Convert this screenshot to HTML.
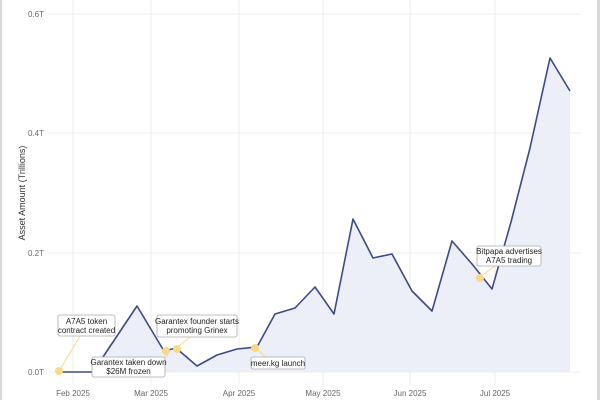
<!DOCTYPE html>
<html><head><style>
html,body{margin:0;padding:0;background:#fff;}
svg{display:block;font-family:"Liberation Sans",sans-serif;}
</style></head><body>
<svg width="600" height="400" viewBox="0 0 600 400">
<rect x="0" y="0" width="2" height="400" fill="#d8d8d8"/>
<rect x="597" y="0" width="3" height="400" fill="#d8d8d8"/>
<g stroke="#ececec" stroke-width="1">
<line x1="73" y1="0" x2="73" y2="385"/>
<line x1="151" y1="0" x2="151" y2="385"/>
<line x1="239" y1="0" x2="239" y2="385"/>
<line x1="323" y1="0" x2="323" y2="385"/>
<line x1="410" y1="0" x2="410" y2="385"/>
<line x1="495" y1="0" x2="495" y2="385"/>
<line x1="48" y1="14" x2="581" y2="14"/>
<line x1="48" y1="133" x2="581" y2="133"/>
<line x1="48" y1="253" x2="581" y2="253"/>
<line x1="48" y1="372" x2="581" y2="372"/>
</g>
<g font-size="8" fill="#666" text-anchor="end">
<text x="44" y="17">0.6T</text>
<text x="44" y="136">0.4T</text>
<text x="44" y="256">0.2T</text>
<text x="44" y="375">0.0T</text>
</g>
<g font-size="8" fill="#666" text-anchor="middle">
<text x="73" y="396">Feb 2025</text>
<text x="151" y="396">Mar 2025</text>
<text x="239" y="396">Apr 2025</text>
<text x="323" y="396">May 2025</text>
<text x="410" y="396">Jun 2025</text>
<text x="495" y="396">Jul 2025</text>
</g>
<text x="25" y="193" font-size="9" fill="#333" text-anchor="middle" transform="rotate(-90 25 193)">Asset Amount (Trillions)</text>
<polygon fill="#eceff8" points="59,372 93,372 137,306 164,351 176,348 197,366 217,355 237,349 257,347 275,314 295,308 315,287 334,314 353,219 373,258 392,254 412,291 432,311 452,241 472,264 492,289 511,222 530,148 550,58 570,91 570,372"/>
<polyline fill="none" stroke="#3d4a85" stroke-width="1.6" stroke-linejoin="round" points="59,372 93,372 137,306 164,351 176,348 197,366 217,355 237,349 257,347 275,314 295,308 315,287 334,314 353,219 373,258 392,254 412,291 432,311 452,241 472,264 492,289 511,222 530,148 550,58 570,91"/>
<g fill="#f8d98a" stroke="none">
<circle cx="59" cy="371" r="4"/>
<circle cx="166" cy="351" r="4"/>
<circle cx="177" cy="349" r="4"/>
<circle cx="255" cy="348" r="4"/>
<circle cx="480" cy="278" r="4"/>
</g>
<g stroke="#f8d98a" stroke-width="1" fill="none">
<line x1="61" y1="368" x2="80" y2="336"/>
<line x1="168" y1="355" x2="160" y2="360"/>
<line x1="179" y1="346" x2="190" y2="337"/>
<line x1="258" y1="350" x2="265" y2="357"/>
<line x1="483" y1="275" x2="495" y2="266"/>
</g>
<g fill="#fff" stroke="#aaa" stroke-width="0.8">
<rect x="58" y="315" width="57" height="21" rx="2"/>
<rect x="92" y="357" width="73" height="20" rx="2"/>
<rect x="157" y="315" width="80" height="22" rx="2"/>
<rect x="251" y="357" width="54" height="12" rx="2"/>
<rect x="477" y="246" width="64" height="20" rx="2"/>
</g>
<g font-size="8" fill="#222" text-anchor="middle">
<text x="86.5" y="324">A7A5 token</text>
<text x="86.5" y="333">contract created</text>
<text x="128.5" y="365">Garantex taken down</text>
<text x="128.5" y="374">$26M frozen</text>
<text x="197" y="324">Garantex founder starts</text>
<text x="197" y="333">promoting Grinex</text>
<text x="278" y="366">meer.kg launch</text>
<text x="509" y="254">Bitpapa advertises</text>
<text x="509" y="263">A7A5 trading</text>
</g>
</svg>
</body></html>
